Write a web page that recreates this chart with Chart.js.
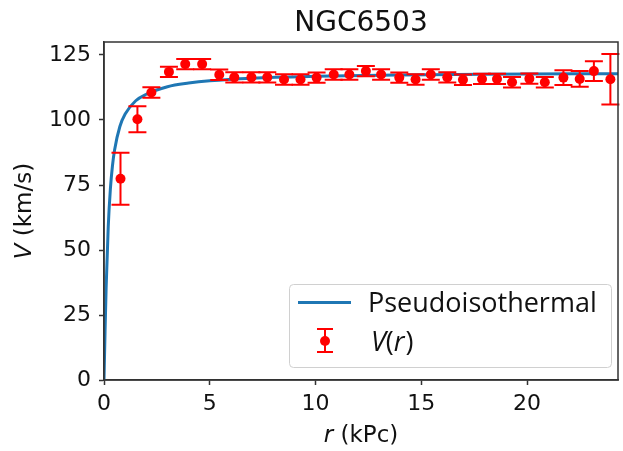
<!DOCTYPE html>
<html>
<head>
<meta charset="utf-8">
<title>NGC6503</title>
<script src="https://cdn.jsdelivr.net/npm/chart.js@4.4.0/dist/chart.umd.min.js"></script>
<style>
    body { margin: 0; background: #fff; }
    canvas { display: block; }
</style>
</head>
<body>
<canvas id="rotCurve" width="623" height="451"></canvas>
<script>
// observed rotation speeds (kPc, km/s) with their errors
const rObs = [0.78, 1.58, 2.24, 3.07, 3.84, 4.64, 5.45, 6.16, 6.97, 7.72, 8.51, 9.29, 10.05, 10.86, 11.6, 12.38,
    13.1, 13.96, 14.73, 15.45, 16.23, 16.97, 17.87, 18.58, 19.29, 20.11, 20.84, 21.72, 22.49, 23.16, 23.94];
const vObs = [77.4, 100.3, 110.6, 118.5, 121.5, 121.5, 117.4, 116.4, 116.4, 116.4, 115.6, 115.6, 116.3, 117.5, 117.5, 118.8,
    117.5, 116.3, 115.6, 117.5, 116.4, 115.5, 115.8, 115.8, 114.5, 115.9, 114.5, 116.3, 115.8, 118.8, 115.7];
const vErr = [10, 5, 2, 2, 2, 2, 2, 2, 2, 2, 2, 2, 2, 2, 2, 2,
    2, 2, 2, 2, 2, 2, 2, 2, 2, 2, 2, 2.8, 3, 3.8, 9.7];

// pseudoisothermal halo fit
const rCurve = [0, 0.05, 0.1, 0.2, 0.3, 0.4, 0.5, 0.75, 1, 1.5, 2, 3, 4, 5, 7, 10, 14, 18, 24.3];
const vCurve = [0, 18.7, 35.2, 58.9, 73.3, 82.4, 88.5, 97.5, 102.3, 107.4, 109.9, 112.8, 114.2, 115.1, 116.1, 116.8, 117.3, 117.6, 117.8];

const xTicks = [0, 5, 10, 15, 20];
const yTicks = [0, 25, 50, 75, 100, 125];

const tickFont = { family: "DejaVu Sans", size: 22 };
const axisColor = "#333";

const errorBars = {
    id: "errorBars",
    beforeDatasetDraw(chart, args) {
        if (args.index !== 1) return;
        const { ctx, scales: { x, y } } = chart;
        ctx.save();
        ctx.strokeStyle = "#ff0000";
        ctx.lineWidth = 2;
        rObs.forEach((r, i) => {
            const px = x.getPixelForValue(r);
            const top = y.getPixelForValue(vObs[i] + vErr[i]);
            const bot = y.getPixelForValue(vObs[i] - vErr[i]);
            ctx.beginPath();
            ctx.moveTo(px, top); ctx.lineTo(px, bot);
            ctx.moveTo(px - 9, top); ctx.lineTo(px + 9, top);
            ctx.moveTo(px - 9, bot); ctx.lineTo(px + 9, bot);
            ctx.stroke();
        });
        ctx.restore();
    }
};

// draws text made of [string, italic] parts, centred on cx
function mixedText(ctx, parts, cx, cy, size, family) {
    const fonts = parts.map(p => (p[1] ? "italic " : "") + size + "px " + family);
    let total = 0;
    const widths = parts.map((p, i) => { ctx.font = fonts[i]; const w = ctx.measureText(p[0]).width; total += w; return w; });
    let x = cx - total / 2;
    parts.forEach((p, i) => {
        ctx.font = fonts[i];
        ctx.fillText(p[0], x, cy);
        x += widths[i];
    });
}

const decorations = {
    id: "decorations",
    afterDraw(chart) {
        const { ctx, chartArea: a } = chart;
        ctx.save();
        // frame
        ctx.strokeStyle = axisColor;
        ctx.lineWidth = 1.5;
        ctx.strokeRect(a.left, a.top, a.right - a.left, a.bottom - a.top);

        ctx.fillStyle = "#111";
        ctx.textBaseline = "alphabetic";
        ctx.textAlign = "left";
        // title
        mixedText(ctx, [["NGC6503", false]], (a.left + a.right) / 2, 31, 28, "DejaVu Sans");
        // x axis title
        mixedText(ctx, [["r", true], [" (kPc)", false]], (a.left + a.right) / 2, 442, 23, "DejaVu Sans");
        // y axis title
        ctx.save();
        ctx.translate(31, (a.top + a.bottom) / 2);
        ctx.rotate(-Math.PI / 2);
        mixedText(ctx, [["V", true], [" (km/s)", false]], 0, 0, 23, "DejaVu Sans");
        ctx.restore();

        // legend
        ctx.beginPath();
        ctx.roundRect(289.5, 284.5, 322, 83, 4);
        ctx.fillStyle = "rgba(255,255,255,0.8)";
        ctx.fill();
        ctx.strokeStyle = "#d0d0d0";
        ctx.lineWidth = 1;
        ctx.stroke();

        ctx.strokeStyle = "#1f77b4";
        ctx.lineWidth = 3;
        ctx.beginPath();
        ctx.moveTo(298, 302.5);
        ctx.lineTo(351, 302.5);
        ctx.stroke();

        ctx.strokeStyle = "#ff0000";
        ctx.lineWidth = 2;
        ctx.beginPath();
        ctx.moveTo(325, 329); ctx.lineTo(325, 352);
        ctx.moveTo(317, 329); ctx.lineTo(333, 329);
        ctx.moveTo(317, 352); ctx.lineTo(333, 352);
        ctx.stroke();
        ctx.fillStyle = "#ff0000";
        ctx.beginPath();
        ctx.arc(325, 341, 5, 0, Math.PI * 2);
        ctx.fill();

        ctx.fillStyle = "#111";
        ctx.font = "27px 'Open Sans'";
        ctx.fillText("Pseudoisothermal", 368, 312);
        ctx.font = "italic 27px 'Open Sans'";
        ctx.fillText("V", 371, 351);
        let w = ctx.measureText("V").width;
        ctx.font = "27px 'Open Sans'";
        ctx.fillText("(", 371 + w, 351);
        w += ctx.measureText("(").width;
        ctx.font = "italic 27px 'Open Sans'";
        ctx.fillText("r", 371 + w, 351);
        w += ctx.measureText("r").width;
        ctx.font = "27px 'Open Sans'";
        ctx.fillText(")", 371 + w + 1, 351);
        ctx.restore();
    }
};

const ctx = document.getElementById("rotCurve").getContext("2d");
new Chart(ctx, {
    type: "scatter",
    data: {
        datasets: [{
            type: "line",
            label: "Pseudoisothermal",
            data: rCurve.map((r, i) => ({ x: r, y: vCurve[i] })),
            borderColor: "#1f77b4",
            borderWidth: 3,
            pointRadius: 0,
            cubicInterpolationMode: "monotone",
            fill: false,
            order: 1
        }, {
            label: "V(r)",
            data: rObs.map((r, i) => ({ x: r, y: vObs[i] })),
            backgroundColor: "#ff0000",
            borderColor: "#ff0000",
            pointRadius: 5,
            pointBorderWidth: 0,
            clip: false,
            order: 0
        }]
    },
    options: {
        responsive: false,
        animation: false,
        events: [],
        layout: { padding: { top: 42, right: 2, left: 0, bottom: 0 } },
        plugins: { legend: { display: false }, tooltip: { enabled: false } },
        scales: {
            x: {
                type: "linear",
                min: 0,
                max: 24.3,
                afterBuildTicks: scale => { scale.ticks = xTicks.map(v => ({ value: v })); },
                afterFit: scale => { scale.height = 71; },
                ticks: { font: tickFont, color: "#111", padding: 6, maxRotation: 0 },
                grid: { drawOnChartArea: false, tickLength: 5, tickWidth: 1.5, tickColor: axisColor },
                border: { color: axisColor, width: 1.5 }
            },
            y: {
                min: 0,
                max: 130,
                afterBuildTicks: scale => { scale.ticks = yTicks.map(v => ({ value: v })); },
                afterFit: scale => { scale.width = 104; },
                ticks: { font: tickFont, color: "#111", padding: 8 },
                grid: { drawOnChartArea: false, tickLength: 5, tickWidth: 1.5, tickColor: axisColor },
                border: { color: axisColor, width: 1.5 }
            }
        }
    },
    plugins: [errorBars, decorations]
});
</script>
</body>
</html>
